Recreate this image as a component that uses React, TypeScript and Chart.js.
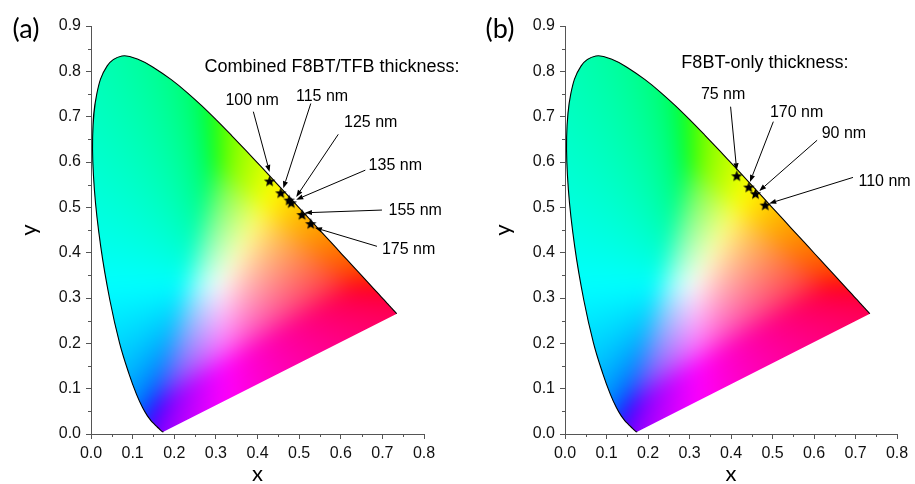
import React, { useEffect, useRef } from "react";
import { Chart, registerables } from "chart.js";

Chart.register(...registerables);

// CIE 1931 2° spectral locus, 380–700 nm
const LOCUS_X = [
  0.1741, 0.174, 0.1738, 0.1736, 0.1733, 0.173, 0.1726, 0.1721, 0.1714, 0.1703,
  0.1689, 0.1669, 0.1644, 0.1611, 0.1566, 0.151, 0.144, 0.1355, 0.1241, 0.1096,
  0.0913, 0.0687, 0.0454, 0.0235, 0.0082, 0.0039, 0.0139, 0.0389, 0.0743, 0.1142,
  0.1547, 0.1929, 0.2296, 0.2658, 0.3016, 0.3373, 0.3731, 0.4087, 0.4441, 0.4788,
  0.5125, 0.5448, 0.5752, 0.6029, 0.627, 0.6482, 0.6658, 0.6801, 0.6915, 0.7006,
  0.7079, 0.714, 0.719, 0.723, 0.726, 0.7283, 0.73, 0.7311, 0.732, 0.7334,
  0.7344, 0.7347,
];
const LOCUS_Y = [
  0.005, 0.005, 0.0049, 0.0049, 0.0048, 0.0048, 0.0048, 0.0048, 0.0051, 0.0058,
  0.0069, 0.0086, 0.0109, 0.0138, 0.0177, 0.0227, 0.0297, 0.0399, 0.0578, 0.0868,
  0.1327, 0.2007, 0.295, 0.4127, 0.5384, 0.6548, 0.7502, 0.812, 0.8338, 0.8262,
  0.8059, 0.7816, 0.7543, 0.7243, 0.6923, 0.6589, 0.6245, 0.5896, 0.5547, 0.5202,
  0.4866, 0.4544, 0.4242, 0.3965, 0.3725, 0.3514, 0.334, 0.3197, 0.3083, 0.2993,
  0.292, 0.2859, 0.2809, 0.277, 0.274, 0.2717, 0.27, 0.2689, 0.268, 0.2666,
  0.2656, 0.2653,
];

// Axis ticks
const X_TICKS = [0, 0.1, 0.2, 0.3, 0.4, 0.5, 0.6, 0.7, 0.8];
const Y_TICKS = [0, 0.1, 0.2, 0.3, 0.4, 0.5, 0.6, 0.7, 0.8, 0.9];

// (a) combined F8BT/TFB stacks
const A_THICKNESS = ["100 nm", "115 nm", "125 nm", "135 nm", "155 nm", "175 nm"];
const A_X = [0.429, 0.456, 0.476, 0.481, 0.507, 0.528];
const A_Y = [0.558, 0.532, 0.516, 0.51, 0.484, 0.464];

// (b) F8BT-only films
const B_THICKNESS = ["75 nm", "170 nm", "90 nm", "110 nm"];
const B_X = [0.414, 0.443, 0.459, 0.4825];
const B_Y = [0.5695, 0.5446, 0.53, 0.505];

// Callout placement (data units): label centre, arrow tail, arrow head
const A_CALLOUTS = [
  { lx: 0.387, ly: 0.736, tx: 0.39, ty: 0.711, hx: 0.429, hy: 0.578 },
  { lx: 0.555, ly: 0.744, tx: 0.528, ty: 0.729, hx: 0.462, hy: 0.542 },
  { lx: 0.672, ly: 0.687, tx: 0.594, ty: 0.661, hx: 0.493, hy: 0.523 },
  { lx: 0.731, ly: 0.592, tx: 0.659, ty: 0.582, hx: 0.493, hy: 0.517 },
  { lx: 0.779, ly: 0.492, tx: 0.699, ty: 0.494, hx: 0.514, hy: 0.488 },
  { lx: 0.763, ly: 0.407, tx: 0.687, ty: 0.414, hx: 0.538, hy: 0.455 },
];
const B_CALLOUTS = [
  { lx: 0.381, ly: 0.749, tx: 0.399, ty: 0.722, hx: 0.4137, hy: 0.582 },
  { lx: 0.558, ly: 0.709, tx: 0.502, ty: 0.689, hx: 0.4457, hy: 0.556 },
  { lx: 0.672, ly: 0.663, tx: 0.6075, ty: 0.648, hx: 0.468, hy: 0.536 },
  { lx: 0.77, ly: 0.556, tx: 0.694, ty: 0.566, hx: 0.492, hy: 0.5086 },
];

const SANS = "'Liberation Sans', Arial, sans-serif";
const TITLE_FONT = "Lato, 'Open Sans', sans-serif";

// chromaticity -> displayable sRGB (desaturate out-of-gamut colours toward white)
function xyToRgb(x: number, y: number): [number, number, number] {
  if (y < 0.003) y = 0.003;
  const X = x / y;
  const Y = 1;
  const Z = (1 - x - y) / y;
  let r = 3.2406 * X - 1.5372 * Y - 0.4986 * Z;
  let g = -0.9689 * X + 1.8758 * Y + 0.0415 * Z;
  let b = 0.0557 * X - 0.204 * Y + 1.057 * Z;
  const m = Math.min(r, g, b);
  if (m < 0) {
    r -= m;
    g -= m;
    b -= m;
  }
  const M = Math.max(r, g, b) || 1;
  const enc = (c: number) => {
    c = c / M;
    const v = c <= 0.0031308 ? 12.92 * c : 1.055 * Math.pow(c, 1 / 2.4) - 0.055;
    return Math.max(0, Math.min(255, Math.round(v * 255)));
  };
  return [enc(r), enc(g), enc(b)];
}

function makeStar(): HTMLCanvasElement {
  const c = document.createElement("canvas");
  c.width = 13;
  c.height = 13;
  const g = c.getContext("2d")!;
  g.fillStyle = "#000";
  g.beginPath();
  for (let i = 0; i < 10; i++) {
    const r = i % 2 === 0 ? 6 : 2.6;
    const a = -Math.PI / 2 + (i * Math.PI) / 5;
    const px = 6.5 + r * Math.cos(a);
    const py = 7 + r * Math.sin(a);
    if (i === 0) g.moveTo(px, py);
    else g.lineTo(px, py);
  }
  g.closePath();
  g.fill();
  return c;
}

const LOCUS_INDEX = 1;

const gamutFill = {
  id: "gamutFill",
  beforeDatasetsDraw(chart: any) {
    const { ctx, chartArea, scales } = chart;
    const xs = scales.x;
    const ys = scales.y;
    const M = 40;
    const w = Math.ceil(chartArea.right - chartArea.left) + 2 * M;
    const h = Math.ceil(chartArea.bottom - chartArea.top) + 2 * M;
    const off = document.createElement("canvas");
    off.width = w;
    off.height = h;
    const octx = off.getContext("2d")!;
    const img = octx.createImageData(w, h);
    for (let j = 0; j < h; j++) {
      const dy = ys.getValueForPixel(chartArea.top - M + j + 0.5);
      for (let i = 0; i < w; i++) {
        const dx = xs.getValueForPixel(chartArea.left - M + i + 0.5);
        const [r, g, b] = xyToRgb(dx, dy);
        const k = (j * w + i) * 4;
        img.data[k] = r;
        img.data[k + 1] = g;
        img.data[k + 2] = b;
        img.data[k + 3] = 255;
      }
    }
    octx.putImageData(img, 0, 0);

    // clip to the (smoothed) locus line produced by the line element
    const line = chart.getDatasetMeta(LOCUS_INDEX).dataset;
    ctx.save();
    ctx.beginPath();
    if (line.updateControlPoints) line.updateControlPoints(chartArea, "x");
    line.path(ctx);
    ctx.closePath();
    ctx.clip();
    ctx.filter = "blur(10px)";
    ctx.drawImage(off, chartArea.left - M, chartArea.top - M);
    ctx.filter = "none";
    ctx.restore();
  },
};

const decorations = {
  id: "decorations",
  afterDatasetsDraw(chart: any, _args: any, opts: any) {
    const { ctx, scales } = chart;
    const xs = scales.x;
    const ys = scales.y;
    ctx.save();
    ctx.strokeStyle = "#000";
    ctx.fillStyle = "#000";
    ctx.lineWidth = 1;
    for (const c of opts.callouts) {
      const x1 = xs.getPixelForValue(c.tx);
      const y1 = ys.getPixelForValue(c.ty);
      const x2 = xs.getPixelForValue(c.hx);
      const y2 = ys.getPixelForValue(c.hy);
      const ang = Math.atan2(y2 - y1, x2 - x1);
      const len = 7;
      const hw = 2.6;
      const bx = x2 - len * Math.cos(ang);
      const by = y2 - len * Math.sin(ang);
      ctx.beginPath();
      ctx.moveTo(x1, y1);
      ctx.lineTo(bx, by);
      ctx.stroke();
      ctx.beginPath();
      ctx.moveTo(x2, y2);
      ctx.lineTo(bx + hw * Math.sin(ang), by - hw * Math.cos(ang));
      ctx.lineTo(bx - hw * Math.sin(ang), by + hw * Math.cos(ang));
      ctx.closePath();
      ctx.fill();
    }
    ctx.font = `16px ${SANS}`;
    ctx.textAlign = "center";
    ctx.textBaseline = "middle";
    opts.callouts.forEach((c: any, i: number) => {
      ctx.fillText(opts.labels[i], xs.getPixelForValue(c.lx), ys.getPixelForValue(c.ly));
    });
    ctx.font = `18px ${SANS}`;
    ctx.fillText(opts.heading.text, xs.getPixelForValue(opts.heading.x), ys.getPixelForValue(opts.heading.y));
    ctx.restore();
  },
  afterDraw(chart: any, _args: any, opts: any) {
    const { ctx, chartArea, scales } = chart;
    const xs = scales.x;
    const ys = scales.y;
    ctx.save();
    // minor ticks
    ctx.strokeStyle = "#555";
    ctx.lineWidth = 1;
    ctx.beginPath();
    for (let i = 0; i < X_TICKS.length - 1; i++) {
      const px = Math.round(xs.getPixelForValue((X_TICKS[i] + X_TICKS[i + 1]) / 2)) + 0.5;
      ctx.moveTo(px, chartArea.bottom);
      ctx.lineTo(px, chartArea.bottom + 3);
    }
    for (let i = 0; i < Y_TICKS.length - 1; i++) {
      const py = Math.round(ys.getPixelForValue((Y_TICKS[i] + Y_TICKS[i + 1]) / 2)) + 0.5;
      ctx.moveTo(chartArea.left - 3, py);
      ctx.lineTo(chartArea.left, py);
    }
    ctx.stroke();
    // axis titles and panel tag
    ctx.fillStyle = "#000";
    ctx.font = `22px ${TITLE_FONT}`;
    ctx.textAlign = "center";
    ctx.textBaseline = "middle";
    ctx.fillText("x", (chartArea.left + chartArea.right) / 2, chartArea.bottom + 40);
    ctx.save();
    ctx.translate(chartArea.left - 62, (chartArea.top + chartArea.bottom) / 2);
    ctx.rotate(-Math.PI / 2);
    ctx.fillText("y", 0, 0);
    ctx.restore();
    ctx.font = `27px ${TITLE_FONT}`;
    ctx.fillText(opts.tag, chartArea.left - 65, chartArea.top + 3);
    ctx.restore();
  },
};

type PanelProps = {
  left: number;
  width: number;
  axisWidth: number;
  padRight: number;
  xs: number[];
  ys: number[];
  labels: string[];
  callouts: any[];
  heading: { text: string; x: number; y: number };
  tag: string;
};

function CiePanel(p: PanelProps) {
  const ref = useRef<HTMLCanvasElement | null>(null);
  useEffect(() => {
    const canvas = ref.current!;
    const star = makeStar();
    const tickFont = { family: SANS, size: 16 };
    const chart = new Chart(canvas, {
      type: "scatter",
      data: {
        datasets: [
          {
            label: "CIE",
            data: p.xs.map((v, i) => ({ x: v, y: p.ys[i] })),
            pointStyle: star as any,
            pointRadius: 5,
            order: 0,
          },
          {
            label: "locus",
            data: LOCUS_X.map((v, i) => ({ x: v, y: LOCUS_Y[i] })),
            showLine: true,
            tension: 0.4,
            borderColor: "#000",
            borderWidth: 1.1,
            pointRadius: 0,
            order: 1,
          },
        ],
      },
      options: {
        responsive: false,
        animation: false,
        events: [],
        layout: { padding: { top: 26, right: p.padRight, left: 0, bottom: 0 } },
        plugins: {
          legend: { display: false },
          tooltip: { enabled: false },
          decorations: { callouts: p.callouts, labels: p.labels, heading: p.heading, tag: p.tag },
        } as any,
        scales: {
          x: {
            type: "linear",
            min: 0,
            max: 0.8,
            afterBuildTicks: (s: any) => {
              s.ticks = X_TICKS.map((v) => ({ value: v }));
            },
            afterFit: (s: any) => {
              s.height = 50;
            },
            ticks: {
              font: tickFont,
              color: "#111",
              padding: 5,
              maxRotation: 0,
              callback: (v: any) => Number(v).toFixed(1),
            },
            grid: { drawOnChartArea: false, drawTicks: true, tickLength: 5, tickColor: "#555" },
            border: { display: true, color: "#555", width: 1 },
          },
          y: {
            type: "linear",
            min: 0,
            max: 0.9,
            afterBuildTicks: (s: any) => {
              s.ticks = Y_TICKS.map((v) => ({ value: v }));
            },
            afterFit: (s: any) => {
              s.width = p.axisWidth;
            },
            ticks: {
              font: tickFont,
              color: "#111",
              padding: 5,
              callback: (v: any) => Number(v).toFixed(1),
            },
            grid: { drawOnChartArea: false, drawTicks: true, tickLength: 5, tickColor: "#555" },
            border: { display: true, color: "#555", width: 1 },
          },
        },
      },
      plugins: [gamutFill, decorations],
    });
    return () => chart.destroy();
  }, []);
  return (
    <div style={{ position: "absolute", left: p.left, top: 0, width: p.width, height: 484 }}>
      <canvas ref={ref} width={p.width} height={484} style={{ width: p.width, height: 484, display: "block" }} />
    </div>
  );
}

export default function App() {
  return (
    <div style={{ position: "fixed", left: 0, top: 0, width: 915, height: 484, background: "#fff", overflow: "hidden" }}>
      <CiePanel
        left={0}
        width={460}
        axisWidth={91}
        padRight={36}
        xs={A_X}
        ys={A_Y}
        labels={A_THICKNESS}
        callouts={A_CALLOUTS}
        heading={{ text: "Combined F8BT/TFB thickness:", x: 0.579, y: 0.81 }}
        tag="(a)"
      />
      <CiePanel
        left={460}
        width={455}
        axisWidth={105}
        padRight={18}
        xs={B_X}
        ys={B_Y}
        labels={B_THICKNESS}
        callouts={B_CALLOUTS}
        heading={{ text: "F8BT-only thickness:", x: 0.4817, y: 0.8177 }}
        tag="(b)"
      />
    </div>
  );
}
